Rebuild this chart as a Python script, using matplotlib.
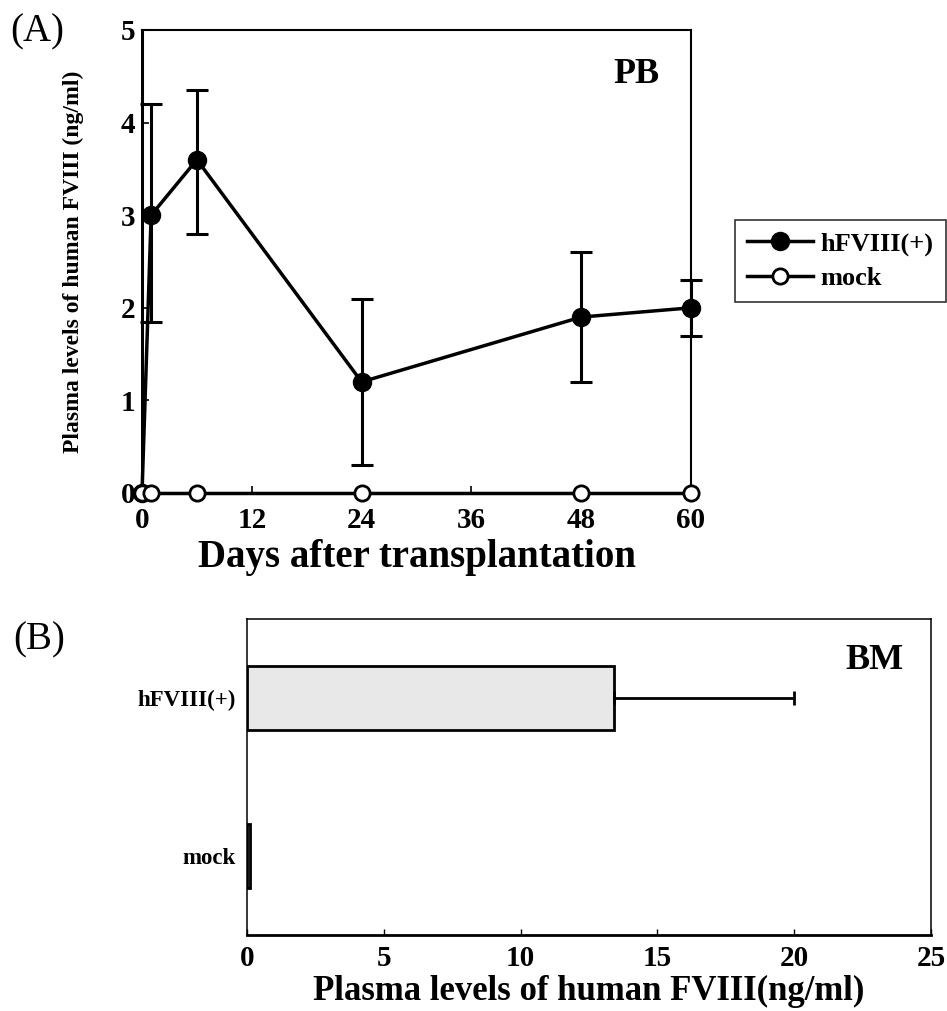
import matplotlib
matplotlib.use("Agg")
import matplotlib.pyplot as plt

plt.rcParams['font.family'] = ['Liberation Serif', 'DejaVu Serif']
plt.rcParams['font.weight'] = 'bold'
plt.rcParams['axes.labelweight'] = 'bold'

# Panel A: peripheral blood time course
days = [0, 1, 6, 24, 48, 60]
hfviii_mean = [0, 3.0, 3.6, 1.2, 1.9, 2.0]
hfviii_upper = [0, 4.2, 4.35, 2.1, 2.6, 2.3]
hfviii_lower = [0, 1.85, 2.8, 0.3, 1.2, 1.7]
mock_mean = [0, 0, 0, 0, 0, 0]
x_ticks_a = [0, 12, 24, 36, 48, 60]
y_ticks_a = [0, 1, 2, 3, 4, 5]

# Panel B: bone marrow
groups = ['mock', 'hFVIII(+)']
bm_mean = [0.1, 13.4]
bm_err = [0, 6.6]
x_ticks_b = [0, 5, 10, 15, 20, 25]

W, H = 947, 1011
fig = plt.figure(figsize=(W / 100, H / 100), dpi=100)

# ---- (A) ----
ax = fig.add_axes([142 / W, 1 - 493 / H, 549 / W, 463 / H])
err_lo = [m - l for m, l in zip(hfviii_mean, hfviii_lower)]
err_hi = [u - m for m, u in zip(hfviii_mean, hfviii_upper)]
eb = ax.errorbar(days[1:], hfviii_mean[1:], yerr=[err_lo[1:], err_hi[1:]],
                 fmt='none', ecolor='black', elinewidth=2.2, capsize=8,
                 capthick=2.2, zorder=2)
for part in eb.lines[1] + eb.lines[2]:
    part.set_clip_on(False)
ax.plot(days, hfviii_mean, '-o', color='black', lw=2.5, markersize=13,
        markerfacecolor='black', label='hFVIII(+)', zorder=3, clip_on=False)
ax.plot(days, mock_mean, '-o', color='black', lw=2.5, markersize=11,
        markerfacecolor='white', markeredgewidth=2, label='mock',
        zorder=4, clip_on=False)
ax.set_xlim(0, 60)
ax.set_ylim(0, 5)
ax.set_xticks(x_ticks_a)
ax.set_yticks(y_ticks_a)
ax.tick_params(direction='in', length=5, width=1.2, labelsize=21,
               top=False, right=False)
ax.tick_params(axis='x', pad=10)
ax.tick_params(axis='y', pad=5)
for s in ['top', 'right', 'bottom']:
    ax.spines[s].set_linewidth(1.5)
ax.spines['left'].set_linewidth(2.2)
ax.set_xlabel('Days after transplantation', fontsize=28, labelpad=4)
ax.set_ylabel('Plasma levels of human FVIII (ng/ml)', fontsize=17)
ax.yaxis.set_label_coords(-0.106, 0.5)
ax.text(0.90, 0.903, 'PB', transform=ax.transAxes, fontsize=26,
        ha='center', va='center')

fig.legend(loc='upper left', bbox_to_anchor=(735 / W, 1 - 220 / H),
           fontsize=19, frameon=True, fancybox=False, edgecolor='black',
           handlelength=2.5, handletextpad=0.3, borderpad=0.45,
           labelspacing=0.4, borderaxespad=0)
fig.legends[0].get_frame().set_linewidth(1.2)

fig.text(10 / W, 1 - 32 / H, '(A)', fontsize=28, fontweight='normal',
         ha='left', va='center')

# ---- (B) ----
bx = fig.add_axes([247 / W, 1 - 935 / H, 684 / W, 316 / H])
ypos = [0, 1]
bx.barh(ypos, bm_mean, height=0.4, color='#e8e8e8', edgecolor='black',
        linewidth=2)
bx.errorbar(bm_mean[1], ypos[1], xerr=[[0], [bm_err[1]]], fmt='none',
            ecolor='black', elinewidth=2, capsize=5, capthick=2)
bx.set_xlim(0, 25)
bx.set_ylim(-0.5, 1.5)
bx.set_xticks(x_ticks_b)
bx.set_yticks(ypos)
bx.set_yticklabels(groups)
bx.tick_params(direction='in', length=4, width=1, labelsize=21,
               top=False, right=False)
bx.tick_params(axis='y', length=0, labelsize=16.5, pad=8)
bx.tick_params(axis='x', pad=7)
for s in ['top', 'right', 'left']:
    bx.spines[s].set_linewidth(1.1)
bx.spines['bottom'].set_linewidth(2)
bx.set_xlabel('Plasma levels of human FVIII(ng/ml)', fontsize=25,
              labelpad=2)
bx.text(0.917, 0.87, 'BM', transform=bx.transAxes, fontsize=26,
        ha='center', va='center')

fig.text(13 / W, 1 - 640 / H, '(B)', fontsize=28, fontweight='normal',
         ha='left', va='center')

fig.savefig('out.png', dpi=100)
